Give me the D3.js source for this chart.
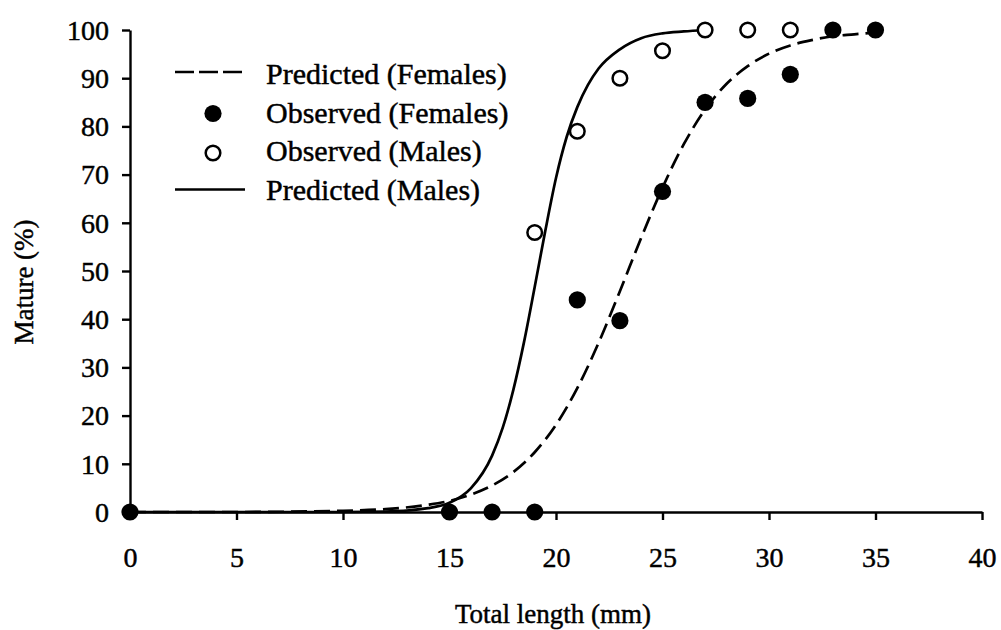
<!DOCTYPE html>
<html>
<head>
<meta charset="utf-8">
<script src="https://cdn.jsdelivr.net/npm/d3@7"></script>
<style>
  html, body { margin: 0; padding: 0; background: #fff; }
  svg { display: block; }
  text { font-family: "Liberation Serif", "Times New Roman", Times, "DejaVu Serif", serif; fill: #000; stroke: #000; stroke-width: 0.45px; }
</style>
</head>
<body>
<svg id="chart" width="1001" height="630"></svg>
<script>
// Observed proportion mature by total length (mm)
const femaleObsLength = [0, 15, 17, 19, 21, 23, 25, 27, 29, 31, 33, 35];
const femaleObsMature = [0, 0, 0, 0, 44, 39.7, 66.5, 85, 85.8, 90.8, 100, 100];

const maleObsLength = [19, 21, 23, 25, 27, 29, 31];
const maleObsMature = [58, 79, 90, 95.7, 100, 100, 100];

// Fitted maturity curves
const femalePredLength = [0, 5, 10, 12, 14, 15, 16, 17, 18, 19, 20, 21, 22, 23, 24, 25, 26, 27, 28, 29, 30, 31, 32, 33, 34, 35];
const femalePredMature = [0, 0, 0.25, 0.6, 1.5, 2.3, 3.6, 5.5, 8.3, 12.4, 18.1, 25.7, 35.1, 45.8, 56.9, 67.3, 76.3, 83.5, 88.8, 92.5, 95.1, 96.8, 97.9, 98.7, 99.1, 99.5];

const malePredLength = [0, 5, 10, 12, 14, 15, 16, 17, 17.5, 18, 18.5, 19, 19.5, 20, 20.5, 21, 21.5, 22, 23, 24, 25, 26, 27];
const malePredMature = [0, 0, 0, 0.1, 0.8, 1.9, 4.9, 11.7, 17.5, 25.4, 35.3, 46.7, 58.4, 69.3, 77.8, 84, 88.6, 92, 96, 98.3, 99.3, 99.7, 100];

const xTicks = [0, 5, 10, 15, 20, 25, 30, 35, 40];
const yTicks = [0, 10, 20, 30, 40, 50, 60, 70, 80, 90, 100];

const legendLabels = ["Predicted (Females)", "Observed (Females)", "Observed (Males)", "Predicted (Males)"];

const serif = "'Liberation Serif', 'Times New Roman', Times, 'DejaVu Serif', serif";
const svg = d3.select("#chart");

const x = d3.scaleLinear().domain([0, 40]).range([130, 982]);
const y = d3.scaleLinear().domain([0, 100]).range([512, 30]);

// Axes
const xAxis = svg.append("g")
  .attr("transform", `translate(0,${y(0)})`)
  .call(d3.axisBottom(x).tickValues(xTicks).tickSize(8).tickSizeOuter(0).tickFormat(d3.format("d")));
xAxis.select(".domain").attr("stroke", "#000").attr("stroke-width", 2.4);
xAxis.selectAll(".tick line").attr("stroke", "#000").attr("stroke-width", 2.4);
xAxis.selectAll(".tick text")
  .attr("y", 55).attr("dy", 0)
  .style("font-size", "28px").style("font-family", serif);

const yAxis = svg.append("g")
  .attr("transform", `translate(${x(0)},0)`)
  .call(d3.axisLeft(y).tickValues(yTicks).tickSize(8).tickSizeOuter(0).tickFormat(d3.format("d")));
yAxis.select(".domain").attr("stroke", "#000").attr("stroke-width", 2.4);
yAxis.selectAll(".tick line").attr("stroke", "#000").attr("stroke-width", 2.4);
yAxis.selectAll(".tick text")
  .attr("x", -21).attr("dy", "0.33em")
  .style("font-size", "28px").style("font-family", serif);

// Axis titles
svg.append("text")
  .attr("x", 553).attr("y", 623)
  .attr("text-anchor", "middle")
  .style("font-size", "27px")
  .text("Total length (mm)");

svg.append("text")
  .attr("transform", `translate(33,${282}) rotate(-90)`)
  .attr("text-anchor", "middle")
  .style("font-size", "27px")
  .text("Mature (%)");

// Predicted curves
const line = d3.line()
  .x(d => x(d[0]))
  .y(d => y(d[1]))
  .curve(d3.curveMonotoneX);

svg.append("path")
  .datum(d3.zip(femalePredLength, femalePredMature))
  .attr("d", line)
  .attr("fill", "none")
  .attr("stroke", "#000")
  .attr("stroke-width", 2.7)
  .attr("stroke-dasharray", "16,7");

svg.append("path")
  .datum(d3.zip(malePredLength, malePredMature))
  .attr("d", line)
  .attr("fill", "none")
  .attr("stroke", "#000")
  .attr("stroke-width", 2.7);

// Observed points
svg.append("g").selectAll("circle")
  .data(d3.zip(maleObsLength, maleObsMature))
  .join("circle")
  .attr("cx", d => x(d[0]))
  .attr("cy", d => y(d[1]))
  .attr("r", 7.3)
  .attr("fill", "#fff")
  .attr("stroke", "#000")
  .attr("stroke-width", 2.5);

svg.append("g").selectAll("circle")
  .data(d3.zip(femaleObsLength, femaleObsMature))
  .join("circle")
  .attr("cx", d => x(d[0]))
  .attr("cy", d => y(d[1]))
  .attr("r", 8.6)
  .attr("fill", "#000");

// Legend
const legend = svg.append("g");
const rowY = [76, 114.5, 153, 191.5];
legend.append("line")
  .attr("x1", 175).attr("x2", 242).attr("y1", rowY[0] - 4).attr("y2", rowY[0] - 4)
  .attr("stroke", "#000").attr("stroke-width", 2.7).attr("stroke-dasharray", "19,5");
legend.append("circle")
  .attr("cx", 213).attr("cy", rowY[1] - 1).attr("r", 8.6).attr("fill", "#000");
legend.append("circle")
  .attr("cx", 213).attr("cy", rowY[2]).attr("r", 7.3)
  .attr("fill", "#fff").attr("stroke", "#000").attr("stroke-width", 2.5);
legend.append("line")
  .attr("x1", 175).attr("x2", 245).attr("y1", rowY[3] - 2).attr("y2", rowY[3] - 2)
  .attr("stroke", "#000").attr("stroke-width", 2.7);

legend.selectAll("text.label")
  .data(legendLabels)
  .join("text")
  .attr("class", "label")
  .attr("x", 266)
  .attr("y", (d, i) => rowY[i] + 8.3)
  .style("font-size", "30px")
  .text(d => d);
</script>
</body>
</html>
